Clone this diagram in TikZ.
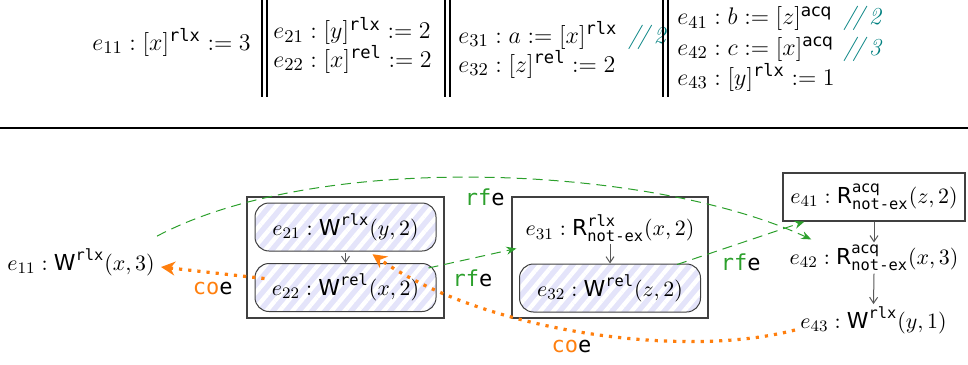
\documentclass[tikz,border=0pt]{standalone}
\usepackage{amsmath}
\usepackage{fontspec}
\setsansfont{DejaVu Sans}
\setmonofont{DejaVu Sans Mono}
\usetikzlibrary{arrows.meta,patterns.meta,calc}
\definecolor{rfgreen}{RGB}{44,160,44}
\definecolor{coorange}{RGB}{255,127,14}
\definecolor{cmtteal}{RGB}{0,128,128}
\definecolor{hatchbg}{RGB}{228,228,250}
\newcommand{\mW}{\textsf{W}}
\newcommand{\mR}{\textsf{R}}
\newcommand{\tm}[1]{\texttt{#1}}
\newcommand{\cmt}[1]{\textcolor{cmtteal}{\textit{/\kern-0.12em/\,#1}}}
\newcommand{\nex}{\texttt{not-ex}}
\begin{document}
\begin{tikzpicture}[x=0.5pt,y=-0.5pt,
  font=\fontsize{11}{13}\selectfont,
  tline/.style={anchor=base west, inner sep=0pt, font=\fontsize{12.2}{14}\selectfont},
  ev/.style={inner sep=1pt},
  bar/.style={line width=1pt},
  rulel/.style={line width=1.2pt},
  hatched/.style={draw=black!75, line width=0.5pt, rounded corners=7pt,
    preaction={fill=hatchbg},
    pattern={Lines[angle=50,distance=5pt,line width=2.2pt]}, pattern color=white,
    minimum width=90.5pt, minimum height=24pt, inner sep=0pt},
  outerbox/.style={draw=black!75, line width=0.6pt, inner sep=0pt},
  po/.style={draw=black!65, line width=0.5pt, -{Straight Barb[length=3pt,width=4pt]}},
  rf/.style={draw=rfgreen, line width=0.5pt, dash pattern=on 5pt off 3pt, -{Stealth[length=5pt,width=4pt]}},
  co/.style={draw=coorange, line width=1.6pt, dash pattern=on 1.6pt off 3pt, -{Stealth[length=7pt,width=7pt]}},
  lab/.style={inner sep=0pt, font=\fontsize{11}{13}\selectfont\ttfamily}
]
\useasboundingbox (0,0) rectangle (968,364);

% program
\node[tline] (t11) at (92,50) {$e_{11} : [x]^{\tm{rlx}} := 3$};
\node[tline] (t21) at (273,39) {$e_{21} : [y]^{\tm{rlx}} := 2$};
\node[tline] (t22) at (273,67) {$e_{22} : [x]^{\tm{rel}} := 2$};
\node[tline] (t31) at (458,43) {$e_{31} : a := [x]^{\tm{rlx}}$};
\node[tline] (c31) at ($(t31.base east)+(10,0)$) {\cmt{2}};
\node[tline] (t32) at (458,72) {$e_{32} : [z]^{\tm{rel}} := 2$};
\node[tline] (t41) at (677,25) {$e_{41} : b := [z]^{\textsf{acq}}$};
\node[tline] (c41) at ($(t41.base east)+(10,0)$) {\cmt{2}};
\node[tline] (t42) at (677,55) {$e_{42} : c := [x]^{\textsf{acq}}$};
\node[tline] (c42) at (c41.base west |- t42.base) {\cmt{3}};
\node[tline] (t43) at (677,85) {$e_{43} : [y]^{\tm{rlx}} := 1$};
\foreach \x in {262,267,445,450,663,668} \draw[bar] (\x,0) -- (\x,97);
\draw[rulel] (0,128) -- (968,128);

% graph
\node[outerbox, minimum width=98.5pt, minimum height=60.5pt] (b2) at (345.5,257.5) {};
\node[outerbox, minimum width=98pt, minimum height=60.5pt] (b3) at (610,257.5) {};
\node[hatched] (n21) at (345.5,227) {$e_{21} : \mW^{\tm{rlx}}(y,2)$};
\node[hatched] (n22) at (345.5,287.5) {$e_{22} : \mW^{\tm{rel}}(x,2)$};
\node[hatched] (n32) at (610,288) {$e_{32} : \mW^{\tm{rel}}(z,2)$};
\node[ev] (n31) at (610,228) {$e_{31} : \mR^{\tm{rlx}}_{\nex}(x,2)$};
\node[outerbox, minimum width=91pt, minimum height=24pt] (n41) at (874,197) {$e_{41} : \mR^{\textsf{acq}}_{\nex}(z,2)$};
\node[ev] (n42) at (874,258) {$e_{42} : \mR^{\textsf{acq}}_{\nex}(x,3)$};
\node[ev] (n43) at (873.5,320) {$e_{43} : \mW^{\tm{rlx}}(y,1)$};
\node[ev] (n11) at (81,262) {$e_{11} : \mW^{\tm{rlx}}(x,3)$};

\draw[po] (n21.south) -- (n22.north);
\draw[po] (n31.south) -- (n32.north);
\draw[po] (n41.south) -- (n42.north);
\draw[po] (n42.south) -- (n43.north);

\draw[rf] ($(n11.north east)+(0,-10)$) .. controls (320,150) and (650,165) .. ($(n42.north west)+(24,-3)$)
  node[lab,pos=0.5,yshift=-10pt] (l1) {\textcolor{rfgreen}{rf}e};
\draw[rf] ($(n22.north east)+(-8,5)$) -- ($(b3.west)+(5,-9)$)
  node[lab,pos=0.5,yshift=-10pt] (l2) {\textcolor{rfgreen}{rf}e};
\draw[rf] ($(n32.north east)+(-24,1)$) -- ($(n41.south west)+(22,0)$)
  node[lab,pos=0.5,yshift=-9.5pt] (l3) {\textcolor{rfgreen}{rf}e};
\draw[co] ($(n22.west)+(10,-9)$) -- ($(n11.east)+(4,5)$)
  node[lab,pos=0.5,yshift=-8pt] (l4) {\textcolor{coorange}{co}e};
\draw[co] ($(n43.west)+(-3,10)$) .. controls (680,360) and (480,330) .. ($(n21.south)+(27,1)$)
  node[lab,pos=0.52,yshift=-8pt] (l5) {\textcolor{coorange}{co}e};
\end{tikzpicture}
\end{document}
